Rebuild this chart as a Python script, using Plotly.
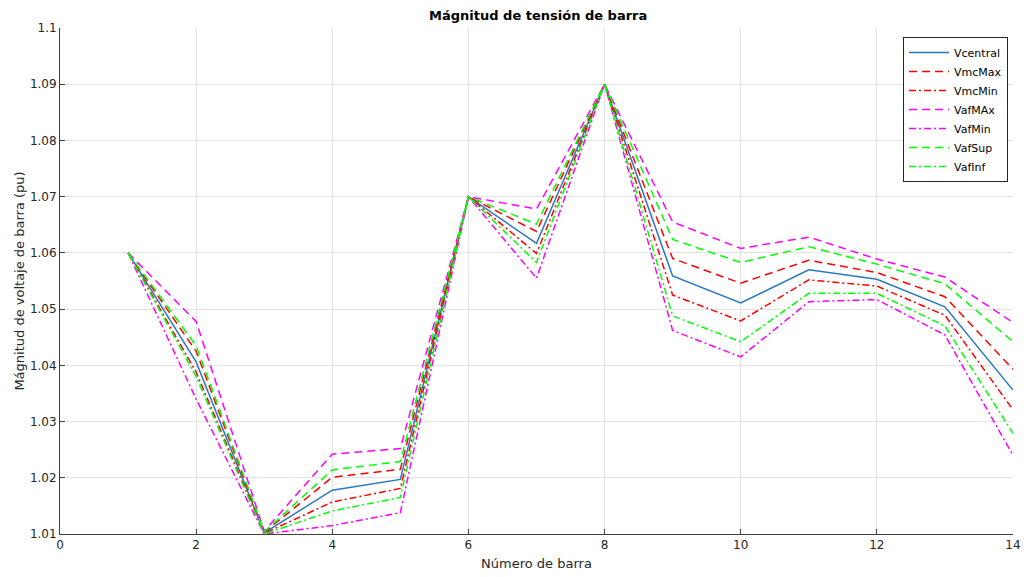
import plotly.graph_objects as go

barra = [1, 2, 3, 4, 5, 6, 7, 8, 9, 10, 11, 12, 13, 14]

vcentral = [1.0600, 1.0406, 1.0102, 1.0178, 1.0197, 1.0700, 1.0617, 1.0900, 1.0559, 1.0511, 1.0570, 1.0553, 1.0504, 1.0356]
vmcmax   = [1.0600, 1.0425, 1.0103, 1.0201, 1.0215, 1.0700, 1.0638, 1.0900, 1.0590, 1.0546, 1.0587, 1.0565, 1.0522, 1.0393]
vmcmin   = [1.0600, 1.0388, 1.0101, 1.0157, 1.0181, 1.0700, 1.0599, 1.0900, 1.0525, 1.0479, 1.0552, 1.0541, 1.0489, 1.0321]
vafmax   = [1.0600, 1.0478, 1.0105, 1.0242, 1.0252, 1.0700, 1.0678, 1.0900, 1.0655, 1.0608, 1.0628, 1.0589, 1.0557, 1.0476]
vafmin   = [1.0600, 1.0340, 1.0100, 1.0115, 1.0138, 1.0700, 1.0555, 1.0900, 1.0462, 1.0415, 1.0513, 1.0517, 1.0454, 1.0240]
vafsup   = [1.0600, 1.0435, 1.0104, 1.0214, 1.0229, 1.0700, 1.0651, 1.0900, 1.0624, 1.0583, 1.0611, 1.0580, 1.0545, 1.0442]
vafinf   = [1.0600, 1.0380, 1.0100, 1.0141, 1.0165, 1.0700, 1.0583, 1.0900, 1.0488, 1.0442, 1.0528, 1.0528, 1.0470, 1.0279]

DASH = "8px,5px"
DASHDOT = "7px,3px,2px,3px"

series = [
    ("Vcentral", vcentral, "#2878c0", "solid"),
    ("VmcMax", vmcmax, "#FF0000", DASH),
    ("VmcMin", vmcmin, "#FF0000", DASHDOT),
    ("VafMAx", vafmax, "#FF00FF", DASH),
    ("VafMin", vafmin, "#FF00FF", DASHDOT),
    ("VafSup", vafsup, "#00FF00", DASH),
    ("VafInf", vafinf, "#00FF00", DASHDOT),
]

y_ticks = [1.01, 1.02, 1.03, 1.04, 1.05, 1.06, 1.07, 1.08, 1.09, 1.1]
y_labels = ["1.01", "1.02", "1.03", "1.04", "1.05", "1.06", "1.07", "1.08", "1.09", "1.1"]
x_ticks = [0, 2, 4, 6, 8, 10, 12, 14]

fig = go.Figure()
for name, vals, color, dash in series:
    fig.add_trace(go.Scatter(
        x=barra, y=vals, mode="lines", name=name,
        line=dict(color=color, dash=dash, width=1.5),
    ))

font = "DejaVu Sans"
fig.update_layout(
    width=1030, height=577,
    margin=dict(l=60, r=17, t=28, b=43),
    paper_bgcolor="white", plot_bgcolor="white",
    font=dict(family=font, size=12, color="#262626"),
    title=dict(text="<b>Mágnitud de tensión de barra</b>", x=0.5225, xanchor="center",
               y=0.973, yanchor="middle", font=dict(size=13, color="black")),
    xaxis=dict(range=[0, 14], tickvals=x_ticks, ticks="inside", ticklen=5,
               tickcolor="#404040", showline=True, linecolor="#404040", linewidth=1,
               showgrid=True, gridcolor="#e3e3e3", zeroline=False, automargin=False,
               title=dict(text="Número de barra", standoff=7, font=dict(size=13)),
               tickfont=dict(size=12)),
    yaxis=dict(range=[1.01, 1.1], tickvals=y_ticks, ticktext=y_labels, ticks="inside",
               ticklen=5, tickcolor="#404040", showline=True, linecolor="#404040",
               linewidth=1, showgrid=True, gridcolor="#e3e3e3", zeroline=False,
               automargin=False,
               title=dict(text="Mágnitud de voltaje de barra (pu)", standoff=2, font=dict(size=13)),
               tickfont=dict(size=12)),
    legend=dict(x=0.8846, y=0.982, xanchor="left", yanchor="top",
                bgcolor="white", bordercolor="#262626", borderwidth=1,
                font=dict(size=11, color="black"), tracegroupgap=0,
                itemwidth=40),
    showlegend=True,
)

fig.write_html("out.html")
